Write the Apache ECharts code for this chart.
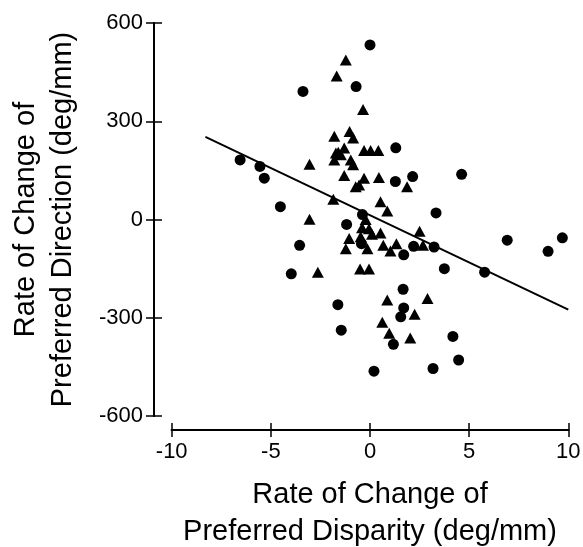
<!DOCTYPE html>
<html>
<head>
<meta charset="utf-8">
<script src="https://cdn.jsdelivr.net/npm/echarts@6/dist/echarts.min.js"></script>
<style>
  html, body { margin: 0; padding: 0; background: #fff; }
  #chart { width: 583px; height: 547px; }
</style>
</head>
<body>
<div id="chart"></div>
<script>
// 圆点数据 [视差变化率, 方向变化率]
var circles = [
	[0.0, 533], [-3.38, 391], [-0.7, 406], [1.3, 219], [-6.55, 182], [-5.55, 162],
	[-5.33, 126], [4.62, 138], [2.15, 131], [1.28, 116], [-4.52, 39], [3.33, 20],
	[-0.38, 15], [-1.18, -15], [6.92, -63], [9.7, -56], [8.98, -97], [-3.55, -79],
	[3.23, -84], [2.2, -82], [1.7, -108], [-0.43, -74], [3.75, -150], [5.78, -161],
	[-3.97, -166], [1.67, -213], [-1.62, -260], [1.7, -270], [1.55, -297], [-1.45, -338],
	[4.18, -357], [1.18, -381], [4.47, -429], [0.2, -463], [3.18, -455]
];
// 三角形数据
var triangles = [
	[-1.22, 487], [-1.68, 438], [-0.35, 336], [-1.8, 254], [-1.03, 269], [-0.85, 249],
	[-1.3, 218], [-0.3, 211], [0.03, 211], [0.42, 211], [-1.72, 203], [-1.47, 198],
	[-0.97, 182], [-1.8, 182], [-0.85, 167], [-3.05, 169], [-1.3, 134], [-0.3, 126],
	[0.45, 128], [-0.55, 105], [-0.72, 100], [1.87, 100], [-1.85, 62], [0.53, 54],
	[0.87, 26], [-3.05, 1], [-0.22, 0], [-0.05, -28], [0.53, -41], [2.5, -36],
	[-1.05, -58], [-0.47, -53], [-1.22, -89], [-0.13, -89], [0.67, -79], [1.33, -74],
	[1.03, -96], [2.67, -79], [-0.5, -151], [-0.05, -151], [-2.63, -161], [0.87, -246],
	[2.9, -241], [2.25, -289], [0.62, -314], [0.97, -347], [2.03, -362], [0.1, -45],
	[-0.4, -25], [-1.6, 205]
];
// 回归直线两端
var fitLine = [[-8.3, 252], [10, -275]];

var xTicks = [-10, -5, 0, 5, 10];
var yTicks = [-600, -300, 0, 300, 600];

var font = 'Liberation Sans, Arial, sans-serif';

var dom = document.getElementById('chart');
var myChart = echarts.init(dom);

// inside=true 的副轴只画向内的刻度，和主轴叠在一起形成穿过轴线的刻度
function makeX(inside, show) {
	return {
		type: 'value',
		min: xTicks[0],
		max: xTicks[xTicks.length - 1],
		interval: 5,
		position: 'bottom',
		offset: 14,
		axisLine: { show: true, onZero: false, lineStyle: { color: '#000', width: 2 } },
		axisTick: { show: true, inside: inside, length: 7, lineStyle: { color: '#000', width: 1.5 } },
		axisLabel: { show: show, color: '#000', fontSize: 22, fontFamily: font, margin: 11 },
		splitLine: { show: false },
		name: show ? 'Rate of Change of\nPreferred Disparity (deg/mm)' : '',
		nameLocation: 'middle',
		nameGap: 46,
		nameTextStyle: { color: '#000', fontSize: 29, fontFamily: font, lineHeight: 37 }
	};
}

function makeY(inside, show) {
	return {
		type: 'value',
		min: yTicks[0],
		max: yTicks[yTicks.length - 1],
		interval: 300,
		position: 'left',
		offset: 17.7,
		axisLine: { show: true, onZero: false, lineStyle: { color: '#000', width: 2 } },
		axisTick: { show: true, inside: inside, length: 8, lineStyle: { color: '#000', width: 1.5 } },
		axisLabel: { show: show, color: '#000', fontSize: 22, fontFamily: font, margin: 11 },
		splitLine: { show: false },
		name: show ? 'Rate of Change of\nPreferred Direction (deg/mm)' : '',
		nameLocation: 'middle',
		nameRotate: 90,
		nameGap: 73,
		nameTextStyle: { color: '#000', fontSize: 29, fontFamily: font, lineHeight: 37 }
	};
}

var option = {
	backgroundColor: '#ffffff',
	animation: false,
	grid: {
		left: 171.7,
		right: 14.7,
		top: 23,
		bottom: 131,
		containLabel: false,
		outerBoundsMode: 'none'
	},
	xAxis: [makeX(false, true), makeX(true, false)],
	yAxis: [makeY(false, true), makeY(true, false)],
	series: [{
		type: 'line',
		data: fitLine,
		symbol: 'none',
		lineStyle: { color: '#000', width: 2 },
		z: 1
	}, {
		type: 'scatter',
		data: circles,
		symbol: 'circle',
		symbolSize: 11,
		itemStyle: { color: '#000', opacity: 1 },
		z: 2
	}, {
		type: 'scatter',
		data: triangles,
		symbol: 'triangle',
		symbolSize: [12, 11],
		itemStyle: { color: '#000', opacity: 1 },
		z: 2
	}]
};
myChart.setOption(option);
</script>
</body>
</html>
